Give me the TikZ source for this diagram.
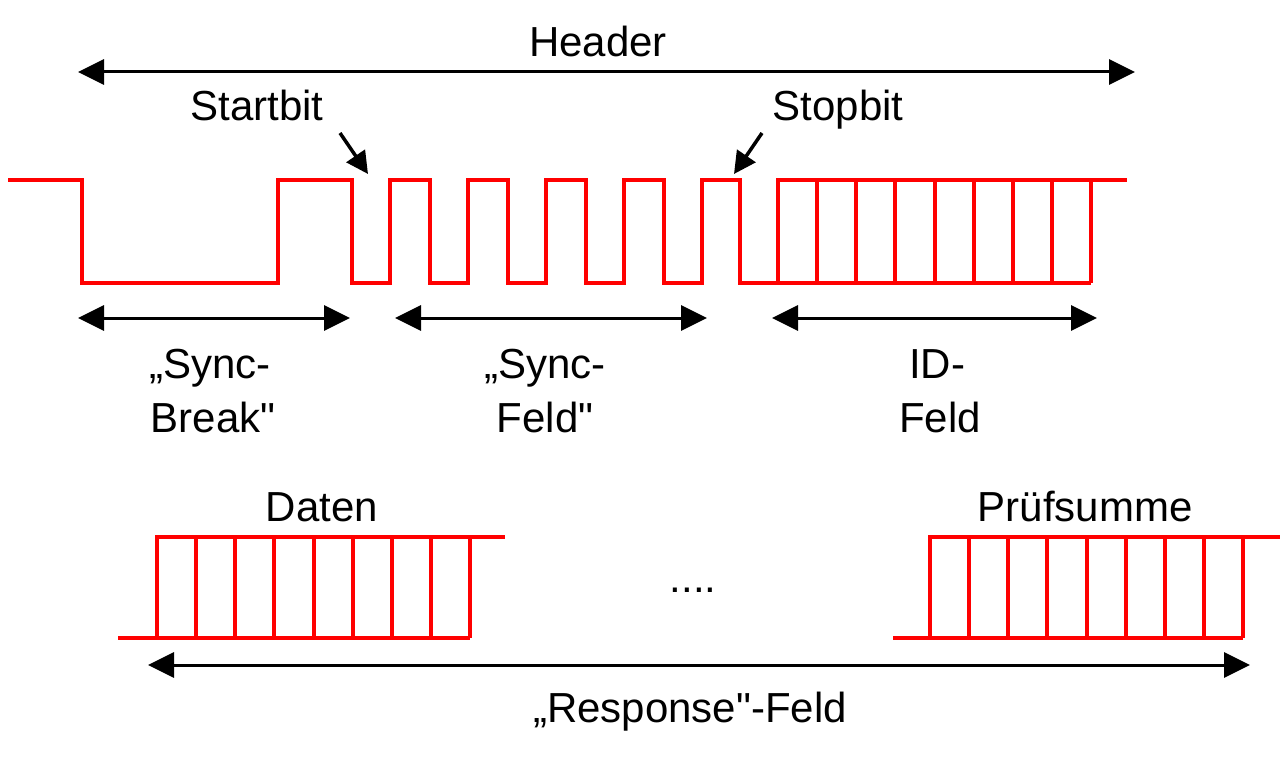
\documentclass[tikz,border=0pt]{standalone}
\usepackage{fontspec}
\setmainfont{Liberation Sans}
\usetikzlibrary{arrows.meta}
\newcommand{\sq}{\XeTeXglyph\XeTeXcharglyph"22\relax}
\begin{document}
\begin{tikzpicture}[x=1pt,y=-1pt,
  sig/.style={draw=red,line width=4pt,line join=miter,line cap=butt},
  dim/.style={draw=black,line width=3pt,{Triangle[length=26pt,width=25pt]}-{Triangle[length=26pt,width=25pt]}},
  ptr/.style={draw=black,line width=3.5pt,-{Triangle[length=22pt,width=22pt]}},
  lbl/.style={anchor=base,inner sep=0pt,font=\fontsize{42}{50}\selectfont}]
\useasboundingbox (0,0) rectangle (1280,768);
% labels
\node[lbl] (header) at (598,57) {Header};
\node[lbl] (startbit) at (257,120) {Startbit};
\node[lbl] (stopbit) at (838,120) {Stopbit};
\node[lbl] (sb1) at (210,378) {„Sync-};
\node[lbl] (sb2) at (213,432) {Break\sq};
\node[lbl] (sf1) at (545,378) {„Sync-};
\node[lbl] (sf2) at (545,432) {Feld\sq};
\node[lbl] (id1) at (937,378) {ID-};
\node[lbl] (id2) at (940,432) {Feld};
\node[lbl] (daten) at (322,521) {Daten};
\node[lbl] (dots) at (693,592) {....};
\node[lbl] (pruef) at (1085,521) {Prüfsumme};
\node[lbl] (resp) at (690,722) {„Response\sq-Feld};
% coordinates for arrows
\coordinate (hL) at (78,72);   \coordinate (hR) at (1135,72);
\coordinate (bL) at (78,318);  \coordinate (bR) at (350,318);
\coordinate (fL) at (395,318); \coordinate (fR) at (707,318);
\coordinate (iL) at (772,318); \coordinate (iR) at (1097,318);
\coordinate (rL) at (148,665); \coordinate (rR) at (1250,665);
\coordinate (stA) at (340,133); \coordinate (stB) at (368,174);
\coordinate (spA) at (762,133); \coordinate (spB) at (734,174);
\draw[dim] (hL) -- (hR);
\draw[dim] (bL) -- (bR);
\draw[dim] (fL) -- (fR);
\draw[dim] (iL) -- (iR);
\draw[dim] (rL) -- (rR);
\draw[ptr] (stA) -- (stB);
\draw[ptr] (spA) -- (spB);
% top waveform
\draw[sig] (8,180) -- (82,180) -- (82,283) -- (278,283) -- (278,180) -- (352,180) -- (352,283)
  -- (390,283) -- (390,180) -- (430,180) -- (430,283)
  -- (468,283) -- (468,180) -- (508,180) -- (508,283)
  -- (546,283) -- (546,180) -- (586,180) -- (586,283)
  -- (624,283) -- (624,180) -- (664,180) -- (664,283)
  -- (702,283) -- (702,180) -- (740,180) -- (740,283)
  -- (1091,283);
\draw[sig] (778,283) -- (778,180) -- (1127,180);
\foreach \i in {1,...,8} \draw[sig] (778+\i*39.125,180) -- (778+\i*39.125,283);
% Daten
\draw[sig] (118,638) -- (470,638);
\draw[sig] (157,638) -- (157,537) -- (505,537);
\foreach \i in {1,...,8} \draw[sig] (157+\i*39.125,537) -- (157+\i*39.125,638);
% Pruefsumme
\draw[sig] (893,638) -- (1243,638);
\draw[sig] (930,638) -- (930,537) -- (1280,537);
\foreach \i in {1,...,8} \draw[sig] (930+\i*39.125,537) -- (930+\i*39.125,638);
\end{tikzpicture}
\end{document}
